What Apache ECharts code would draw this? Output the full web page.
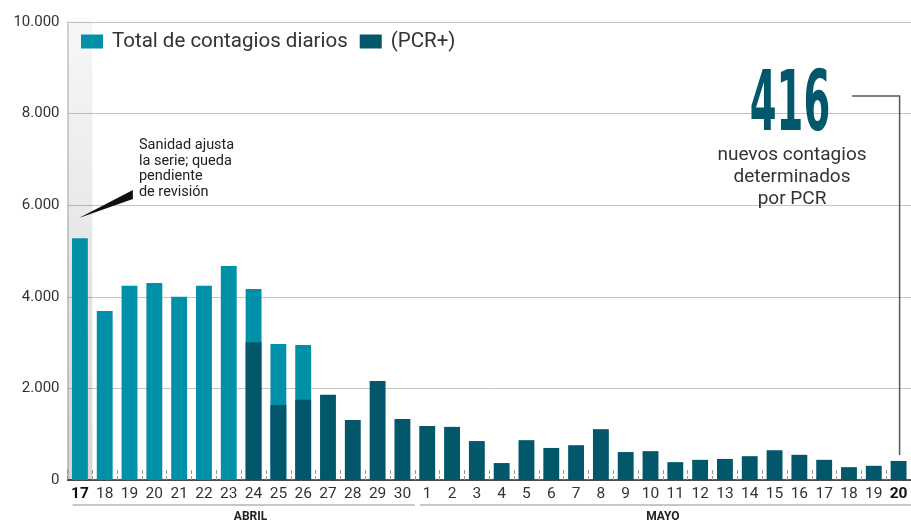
<!DOCTYPE html>
<html>
<head>
<meta charset="utf-8">
<script src="https://cdn.jsdelivr.net/npm/echarts@6/dist/echarts.min.js"></script>
<style>
html, body { margin: 0; padding: 0; background: #fff; }
#chart { width: 911px; height: 522px; }
</style>
</head>
<body>
<div id="chart"></div>
<script>
// días (17 abril - 20 mayo)
var dias = ['17', '18', '19', '20', '21', '22', '23', '24', '25', '26', '27', '28', '29', '30',
	'1', '2', '3', '4', '5', '6', '7', '8', '9', '10', '11', '12', '13', '14', '15', '16', '17', '18', '19', '20'];
var meses = ['ABRIL', 'MAYO'];
var diasAbril = 14;

// total de contagios diarios
var total = [5280, 3690, 4240, 4300, 4000, 4240, 4670, 4170, 2970, 2950,
	null, null, null, null, null, null, null, null, null, null, null, null, null, null,
	null, null, null, null, null, null, null, null, null, null];

// contagios por PCR
var pcr = [null, null, null, null, null, null, null, 3010, 1640, 1750, 1860, 1310, 2160, 1330,
	1180, 1160, 850, 370, 870, 700, 760, 1110, 610, 630, 390, 440, 460, 520, 650, 550, 440, 280, 310, 416];

var yTicks = [0, 2000, 4000, 6000, 8000, 10000];

var nombres = ['Total de contagios diarios', '(PCR+)'];
var ultimo = '416';

var colorTotal = '#0090a8';
var colorPcr = '#03576a';

// formato de miles con punto
function miles(v) {
	return String(v).replace(/\B(?=(\d{3})+(?!\d))/g, '.');
}

var myChart = echarts.init(document.getElementById('chart'));

var option = {
	animation: false,
	textStyle: { fontFamily: 'Roboto' },
	color: [colorTotal, colorPcr],
	legend: {
		left: 76,
		top: 26,
		icon: 'rect',
		itemWidth: 22,
		itemHeight: 14,
		itemGap: 12,
		textStyle: { fontSize: 20.5, color: '#333', padding: [0, 0, 0, 4] },
		data: nombres
	},
	grid: {
		left: 67.5,
		top: 22,
		width: 848,
		bottom: 42
	},
	xAxis: {
		type: 'category',
		data: dias,
		axisLine: { lineStyle: { color: '#222', width: 1.5 } },
		axisTick: {
			show: true,
			inside: true,
			length: 12,
			lineStyle: { color: '#999', type: 'dashed', width: 1 }
		},
		axisLabel: {
			margin: 6,
			fontSize: 15.5,
			color: '#333',
			interval: 0,
			formatter: function(v, i) {
				return (i === 0 || i === dias.length - 1) ? '{b|' + v + '}' : v;
			},
			rich: {
				b: { fontSize: 15.5, fontWeight: 'bold', color: '#111' }
			}
		}
	},
	yAxis: {
		type: 'value',
		min: yTicks[0],
		max: yTicks[yTicks.length - 1],
		interval: 2000,
		axisLine: { show: true, lineStyle: { color: '#c8c8c8', width: 1.5 } },
		axisTick: { show: false },
		splitLine: { lineStyle: { color: '#c4c4c4', width: 1 } },
		axisLabel: {
			margin: 8,
			fontSize: 15,
			color: '#333',
			formatter: miles
		}
	},
	series: [{
		name: nombres[0],
		type: 'bar',
		barWidth: '64%',
		barGap: '-100%',
		data: total
	}, {
		name: nombres[1],
		type: 'bar',
		barWidth: '64%',
		barGap: '-100%',
		data: pcr
	}]
};

myChart.setOption(option);

// elementos de anotación, colocados con las escalas del gráfico
function px(i, v) {
	return myChart.convertToPixel({ xAxisIndex: 0, yAxisIndex: 0 }, [i, v]);
}

var paso = px(1, 0)[0] - px(0, 0)[0];
var base = px(0, 0)[1];
var techo = px(0, yTicks[yTicks.length - 1])[1];
var n = dias.length;

var punta = px(0, 5720);
var finBarra = px(n - 1, pcr[n - 1]);
var yMes = base + 25;

var graphic = [{
	// banda gris del día 17
	type: 'rect',
	z: 1,
	shape: { x: px(0, 0)[0] - paso / 2, y: techo - 1, width: paso, height: base - techo + 1 },
	style: {
		fill: new echarts.graphic.LinearGradient(0, 0, 0, 1, [
			{ offset: 0, color: 'rgba(0,0,0,0.03)' },
			{ offset: 1, color: 'rgba(0,0,0,0.16)' }
		])
	}
}, {
	type: 'polygon',
	z: 10,
	shape: { points: [[punta[0] - 1, punta[1]], [punta[0] + 53, punta[1] - 28], [punta[0] + 53, punta[1] - 19]] },
	style: { fill: '#111' }
}, {
	type: 'text',
	z: 10,
	x: punta[0] + 59,
	y: punta[1] - 80,
	style: {
		text: 'Sanidad ajusta\nla serie; queda\npendiente\nde revisión',
		font: '14.5px Roboto',
		lineHeight: 15.5,
		fill: '#222'
	}
}, {
	// líneas de los meses
	type: 'line',
	shape: { x1: px(0, 0)[0] - paso / 2 + 5, y1: yMes, x2: px(diasAbril - 1, 0)[0] + paso / 2, y2: yMes },
	style: { stroke: '#b5b5b5', lineWidth: 1.5 }
}, {
	type: 'line',
	shape: { x1: px(diasAbril, 0)[0] - paso / 2 + 5, y1: yMes, x2: px(n - 1, 0)[0] + paso / 2, y2: yMes },
	style: { stroke: '#b5b5b5', lineWidth: 1.5 }
}, {
	type: 'text',
	x: px(7, 0)[0] - 3,
	y: yMes + 12,
	style: { text: meses[0], font: 'bold 12px Roboto', fill: '#222', align: 'center', verticalAlign: 'middle' }
}, {
	type: 'text',
	x: (px(23, 0)[0] + px(24, 0)[0]) / 2,
	y: yMes + 12,
	style: { text: meses[1], font: 'bold 12px Roboto', fill: '#222', align: 'center', verticalAlign: 'middle' }
}, {
	// cifra destacada del último día
	type: 'text',
	z: 10,
	x: 790,
	y: 108,
	scaleX: 0.51,
	style: {
		text: ultimo,
		font: 'bold 84px "Liberation Sans Narrow", "DejaVu Sans Condensed", sans-serif',
		fill: colorPcr,
		align: 'center',
		verticalAlign: 'middle'
	}
}, {
	type: 'text',
	z: 10,
	x: 792,
	y: 144,
	style: {
		text: 'nuevos contagios\ndeterminados\npor PCR',
		font: '19px Roboto',
		lineHeight: 22,
		fill: '#333',
		align: 'center'
	}
}, {
	type: 'polyline',
	z: 10,
	shape: { points: [[852, 96], [finBarra[0] + 1, 96], [finBarra[0] + 1, finBarra[1] - 6]] },
	style: { stroke: '#555', lineWidth: 1.5, fill: null }
}];

myChart.setOption({ graphic: graphic });
</script>
</body>
</html>
